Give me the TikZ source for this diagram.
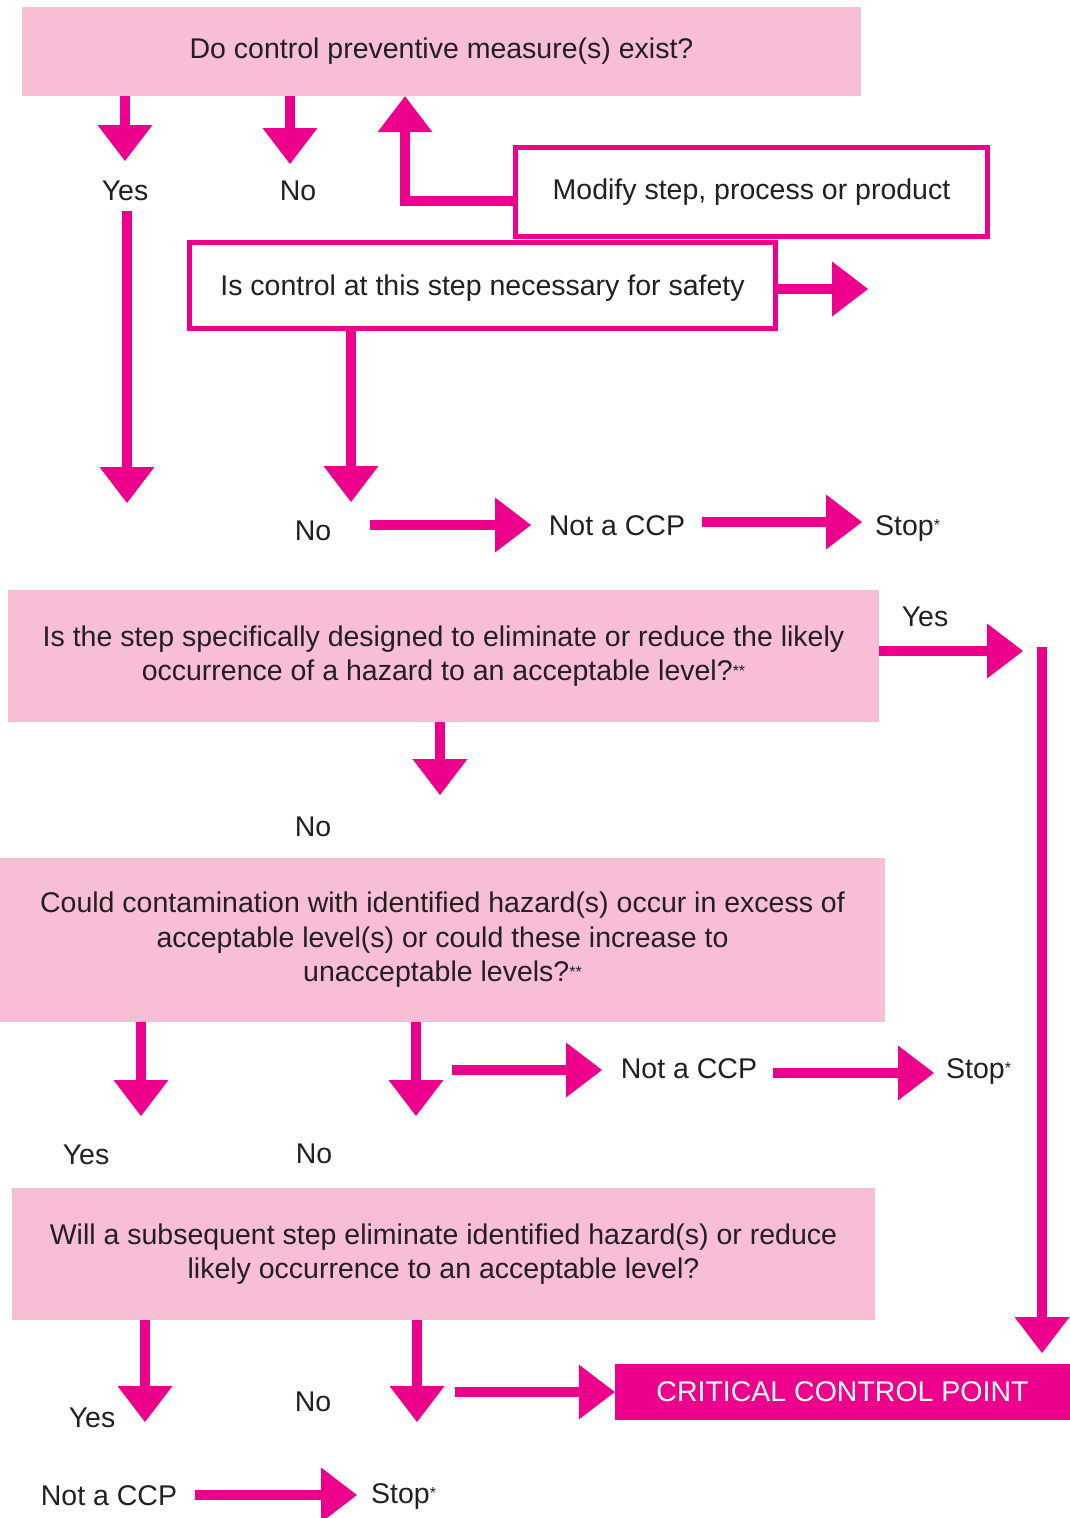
\documentclass[tikz,border=0pt]{standalone}
\usepackage{fontspec}
\setmainfont{Liberation Sans}
\usetikzlibrary{arrows.meta,calc}
\definecolor{mag}{HTML}{EC008C}
\definecolor{pinkfill}{HTML}{F7BED6}
\definecolor{txt}{HTML}{231F20}
\newcommand\smallstar{\raisebox{4.5pt}{\fontsize{16}{16}\selectfont *}}
\begin{document}
\begin{tikzpicture}[x=1pt,y=-1pt,
  every node/.style={text=txt, font=\fontsize{28.5}{34.5}\selectfont},
  pbox/.style={fill=pinkfill, draw=none, align=center, inner sep=0pt},
  obox/.style={draw=mag, line width=5pt, fill=white, inner sep=0pt},
  ccpbox/.style={fill=mag, draw=none, inner sep=0pt, text=white},
  lbl/.style={inner sep=0pt, text height=20pt, text depth=0pt},
  arr/.style={draw=mag, line width=10pt, -{Triangle[length=36pt,width=55pt,line width=0pt]}}
]
\useasboundingbox (0,0) rectangle (1070,1518);

% boxes
\node[pbox, minimum width=839pt, minimum height=89pt] (q1) at (441.5,51.5) {Do control preventive measure(s) exist?};
\node[obox, minimum width=586pt, minimum height=86pt, text height=20pt, text depth=0pt] (q2) at (482.5,285.5) {Is control at this step necessary for safety};
\node[obox, minimum width=472pt, minimum height=89pt] (mod) at (751.5,192) {Modify step, process or product};
\node[pbox, minimum width=871pt, minimum height=132pt] (q3) at (443.5,656) {Is the step specifically designed to eliminate or reduce the likely\\occurrence of a hazard to an acceptable level?\smallstar\smallstar};
\node[pbox, minimum width=885pt, minimum height=164pt] (q4) at (442.5,940) {Could contamination with identified hazard(s) occur in excess of\\acceptable level(s) or could these increase to\\unacceptable levels?\smallstar\smallstar};
\node[pbox, minimum width=863pt, minimum height=132pt] (q5) at (443.5,1254) {Will a subsequent step eliminate identified hazard(s) or reduce\\likely occurrence to an acceptable level?};
\node[ccpbox, minimum width=455pt, minimum height=56pt] (ccp) at (842.5,1392) {CRITICAL CONTROL POINT};

% labels
\node[lbl] (y1) at (125,190) {Yes};
\node[lbl] (n1) at (298,190) {No};
\node[lbl] (n2) at (313,530) {No};
\node[lbl] (nc1) at (617,525) {Not a CCP};
\node[lbl, anchor=west] (st1) at (875,525) {Stop\smallstar};
\node[lbl] (y2) at (925,616) {Yes};
\node[lbl] (n3) at (313,826) {No};
\node[lbl] (nc2) at (689,1068) {Not a CCP};
\node[lbl, anchor=west] (st2) at (946,1068) {Stop\smallstar};
\node[lbl] (y3) at (86,1154) {Yes};
\node[lbl] (n4) at (314,1153) {No};
\node[lbl] (y4) at (92,1417) {Yes};
\node[lbl] (n5) at (313,1401) {No};
\node[lbl] (nc3) at (109,1495) {Not a CCP};
\node[lbl, anchor=west] (st3) at (371,1493) {Stop\smallstar};

% arrow end points
\coordinate (t1) at (125,161);
\coordinate (t2) at (290,164);
\coordinate (k3) at (405,201);
\coordinate (t4) at (868,289);
\coordinate (s5) at (127,211);
\coordinate (t5) at (127,503);
\coordinate (t6) at (351,502);
\coordinate (s7) at (370,525);
\coordinate (t7) at (531,525);
\coordinate (s8) at (702,522);
\coordinate (t8) at (862,522);
\coordinate (t9) at (1023,651);
\coordinate (s10) at (1042,647);
\coordinate (t10) at (1042,1353);
\coordinate (t11) at (440,795);
\coordinate (t12) at (141,1116);
\coordinate (t13) at (416,1116);
\coordinate (s14) at (452,1070);
\coordinate (t14) at (602,1070);
\coordinate (s15) at (773,1073);
\coordinate (t15) at (934,1073);
\coordinate (t16) at (145,1422);
\coordinate (t17) at (417,1422);
\coordinate (s18) at (455,1392);
\coordinate (s19) at (195,1495);
\coordinate (t19) at (357,1495);

% connectors
\draw[arr] (q1.south -| t1) -- (t1);
\draw[arr] (q1.south -| t2) -- (t2);
\draw[arr] (mod.west |- k3) -- (k3) -- (k3 |- q1.south);
\draw[arr] (q2.east |- t4) -- (t4);
\draw[arr] (s5) -- (t5);
\draw[arr] (q2.south -| t6) -- (t6);
\draw[arr] (s7) -- (t7);
\draw[arr] (s8) -- (t8);
\draw[arr] (q3.east |- t9) -- (t9);
\draw[arr] (s10) -- (t10);
\draw[arr] (q3.south -| t11) -- (t11);
\draw[arr] (q4.south -| t12) -- (t12);
\draw[arr] (q4.south -| t13) -- (t13);
\draw[arr] (s14) -- (t14);
\draw[arr] (s15) -- (t15);
\draw[arr] (q5.south -| t16) -- (t16);
\draw[arr] (q5.south -| t17) -- (t17);
\draw[arr] (s18) -- (ccp.west);
\draw[arr] (s19) -- (t19);
\end{tikzpicture}
\end{document}
